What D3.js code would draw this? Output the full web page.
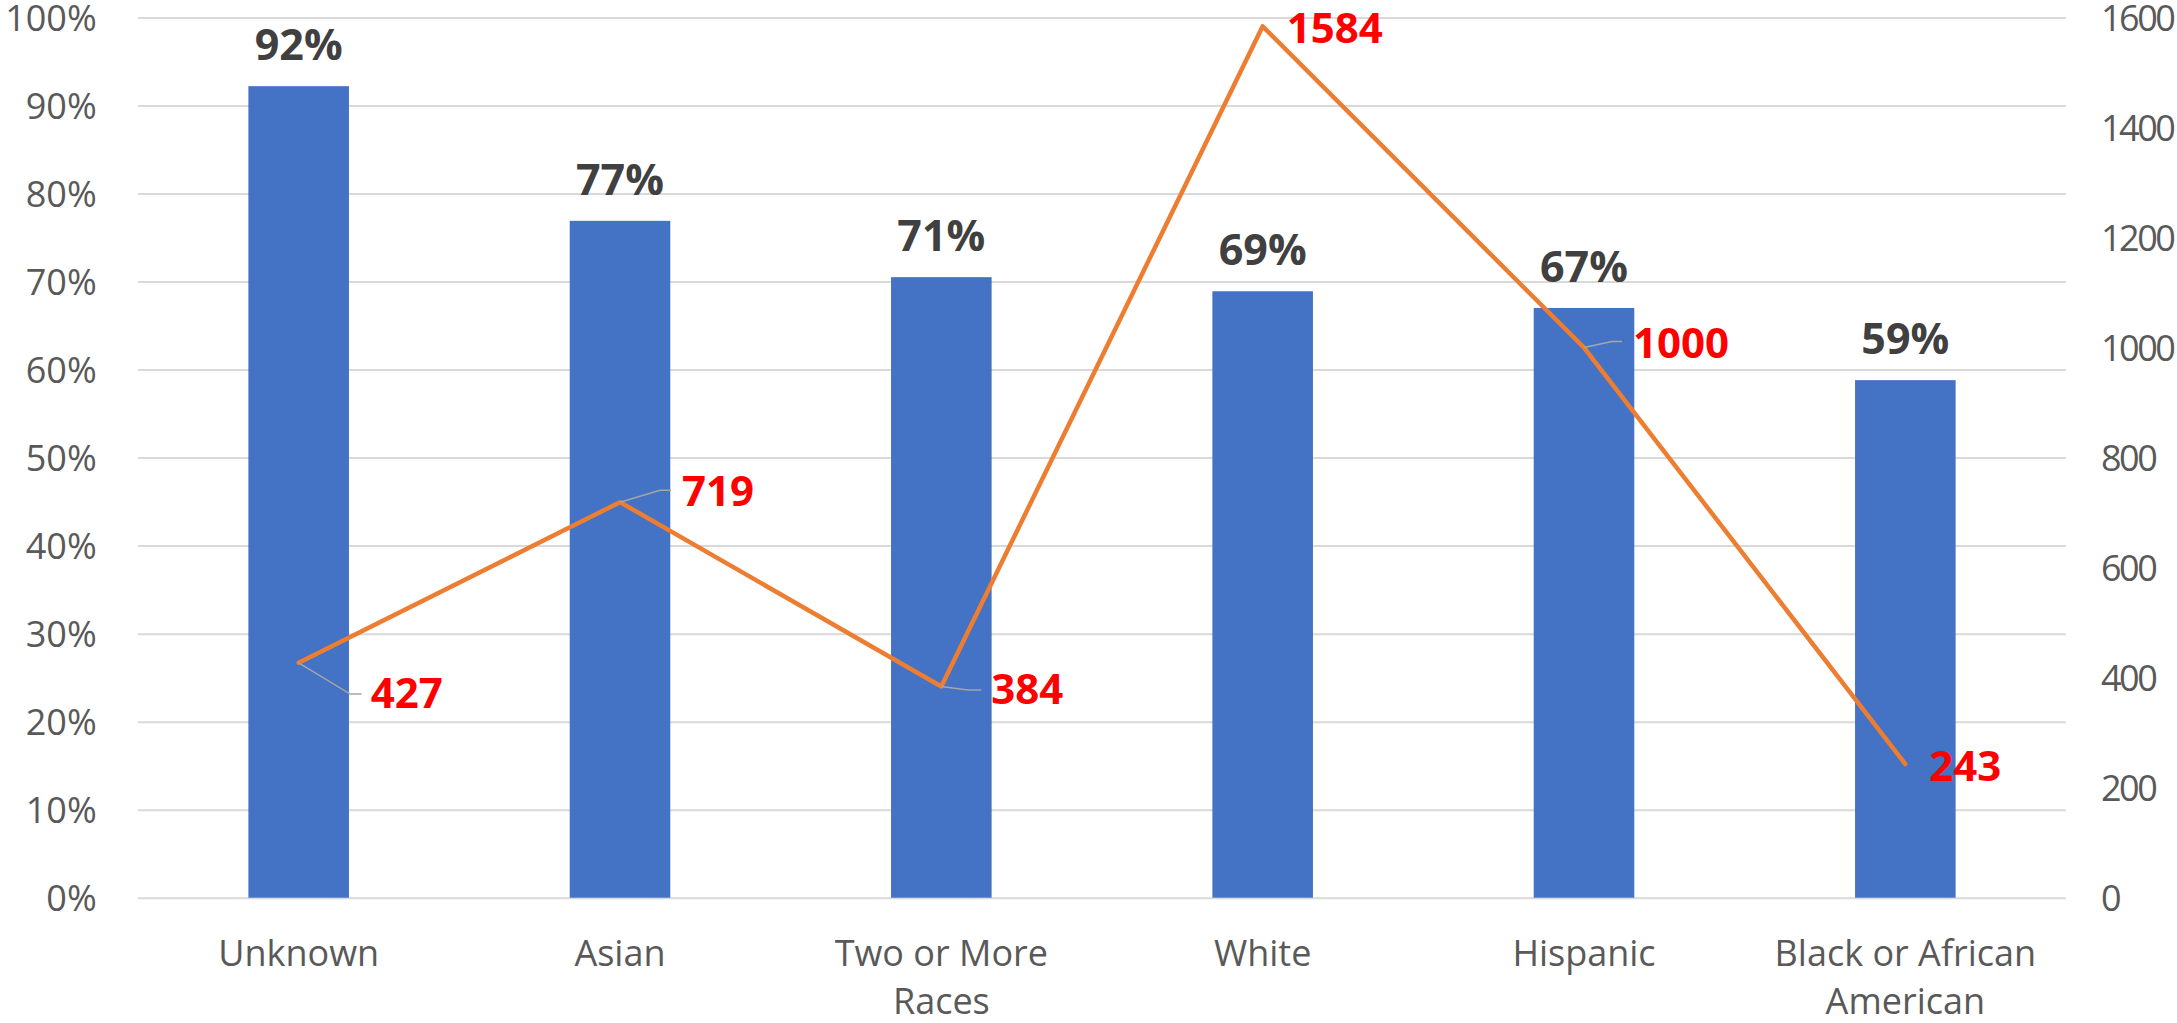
<!DOCTYPE html>
<html>
<head>
<meta charset="utf-8">
<script src="https://cdn.jsdelivr.net/npm/d3@7"></script>
<style>
  html, body { margin: 0; padding: 0; background: #ffffff; }
  svg { display: block; font-family: "Open Sans", "Noto Sans", sans-serif; }
</style>
</head>
<body>
<svg id="chart" width="2177" height="1023"></svg>
<script>
// ---- data ----
const categories = ["Unknown", "Asian", "Two or More Races", "White", "Hispanic", "Black or African American"];
const rateValues = [0.922, 0.769, 0.705, 0.689, 0.670, 0.588];
const countValues = [427, 719, 384, 1584, 1000, 243];
const leftTicks = [0, 0.1, 0.2, 0.3, 0.4, 0.5, 0.6, 0.7, 0.8, 0.9, 1.0];
const rightTicks = [0, 200, 400, 600, 800, 1000, 1200, 1400, 1600];

// ---- layout (label placement offsets, relative to point) ----
const countLabelLayout = [
  { dx: 72, dy: 45, leader: [[51.6, 31.3], [63, 31.3]] },
  { dx: 62, dy: 4, leader: [[40, -12], [51, -12]] },
  { dx: 50, dy: 18, leader: [[26.4, 3.5], [40, 3.5]] },
  { dx: 24, dy: 17, leader: null },
  { dx: 49, dy: 10, leader: [[28, -6], [38, -6]] },
  { dx: 24, dy: 17, leader: null }
];

(function () {
const svg = d3.select("#chart");
const pLeft = 138, pRight = 2066, pTop = 17.5, pBottom = 897.7;

const x = d3.scaleBand().domain(categories).range([pLeft, pRight]).padding(0);
const yL = d3.scaleLinear().domain([0, 1]).range([pBottom, pTop]);
const yR = d3.scaleLinear().domain([0, 1600]).range([pBottom, pTop]);
const barW = x.bandwidth() * 0.313;
const cx = d => x(d) + x.bandwidth() / 2;

// gridlines
const grid = svg.append("g").attr("transform", `translate(${pLeft},0)`)
  .call(d3.axisRight(yL).tickValues(leftTicks).tickSize(pRight - pLeft).tickFormat(""));
grid.select(".domain").remove();
grid.selectAll("line").attr("stroke", "#D9D9D9").attr("stroke-width", 2);

// left axis labels
const la = svg.append("g").attr("transform", `translate(${pLeft},0)`)
  .call(d3.axisLeft(yL).tickValues(leftTicks).tickSize(0).tickPadding(41.3).tickFormat(d3.format(".0%")));
la.select(".domain").remove();
la.selectAll("text").attr("font-size", 36).attr("fill", "#595959")
  .attr("font-family", "'Open Sans', sans-serif").attr("dy", "0.36em");

// right axis labels
const ra = svg.append("g").attr("transform", `translate(${pRight},0)`)
  .call(d3.axisRight(yR).tickValues(rightTicks).tickSize(0).tickPadding(35).tickFormat(d3.format("d")));
ra.select(".domain").remove();
ra.selectAll("text").attr("font-size", 36).attr("fill", "#595959")
  .attr("letter-spacing", "-2.5px")
  .attr("font-family", "'Open Sans', sans-serif").attr("dy", "0.36em");

// bars
svg.append("g").selectAll("rect").data(categories).join("rect")
  .attr("x", d => cx(d) - barW / 2)
  .attr("y", (d, i) => yL(rateValues[i]))
  .attr("width", barW)
  .attr("height", (d, i) => pBottom - yL(rateValues[i]))
  .attr("fill", "#4472C4");

// bar labels
svg.append("g").selectAll("text").data(categories).join("text")
  .attr("x", d => cx(d))
  .attr("y", (d, i) => yL(rateValues[i]) - 26)
  .attr("text-anchor", "middle")
  .attr("font-size", 43).attr("font-weight", "bold").attr("fill", "#404040")
  .text((d, i) => d3.format(".0%")(rateValues[i]));

// x axis labels
const xa = svg.append("g").attr("transform", `translate(0,${pBottom})`)
  .call(d3.axisBottom(x).tickSize(0).tickPadding(0));
xa.select(".domain").remove();
xa.selectAll("text").each(function(d) {
  const t = d3.select(this);
  t.text(null).attr("y", 68).attr("dy", null)
    .attr("font-size", 36).attr("fill", "#595959").attr("font-family", "'Open Sans', sans-serif");
  const words = d.split(" ");
  let ln = [];
  let tspan = t.append("tspan").attr("x", 0).attr("y", 68);
  let lineNo = 0;
  for (const w of words) {
    ln.push(w);
    tspan.text(ln.join(" "));
    if (tspan.node().getComputedTextLength() > 280 && ln.length > 1) {
      ln.pop();
      tspan.text(ln.join(" "));
      ln = [w];
      lineNo++;
      tspan = t.append("tspan").attr("x", 0).attr("y", 68 + lineNo * 48).text(w);
    }
  }
});

// line
const lineGen = d3.line().x(d => cx(d)).y((d, i) => yR(countValues[i]));
svg.append("path").datum(categories)
  .attr("d", lineGen)
  .attr("fill", "none").attr("stroke", "#ED7D31").attr("stroke-width", 4.5)
  .attr("stroke-linejoin", "round").attr("stroke-linecap", "round");

// leader lines
const lg = svg.append("g");
categories.forEach((d, i) => {
  const L = countLabelLayout[i];
  if (!L.leader) return;
  const px = cx(d), py = yR(countValues[i]);
  const pts = [[px, py]].concat(L.leader.map(p => [px + p[0], py + p[1]]));
  lg.append("path").attr("d", d3.line()(pts))
    .attr("fill", "none").attr("stroke", "#A6A6A6").attr("stroke-width", 1.5);
});

// count labels
svg.append("g").selectAll("text").data(categories).join("text")
  .attr("x", (d, i) => cx(d) + countLabelLayout[i].dx)
  .attr("y", (d, i) => yR(countValues[i]) + countLabelLayout[i].dy)
  .attr("font-size", 42).attr("font-weight", "bold").attr("fill", "#FF0000")
  .text((d, i) => countValues[i]);
})();
</script>
</body>
</html>
